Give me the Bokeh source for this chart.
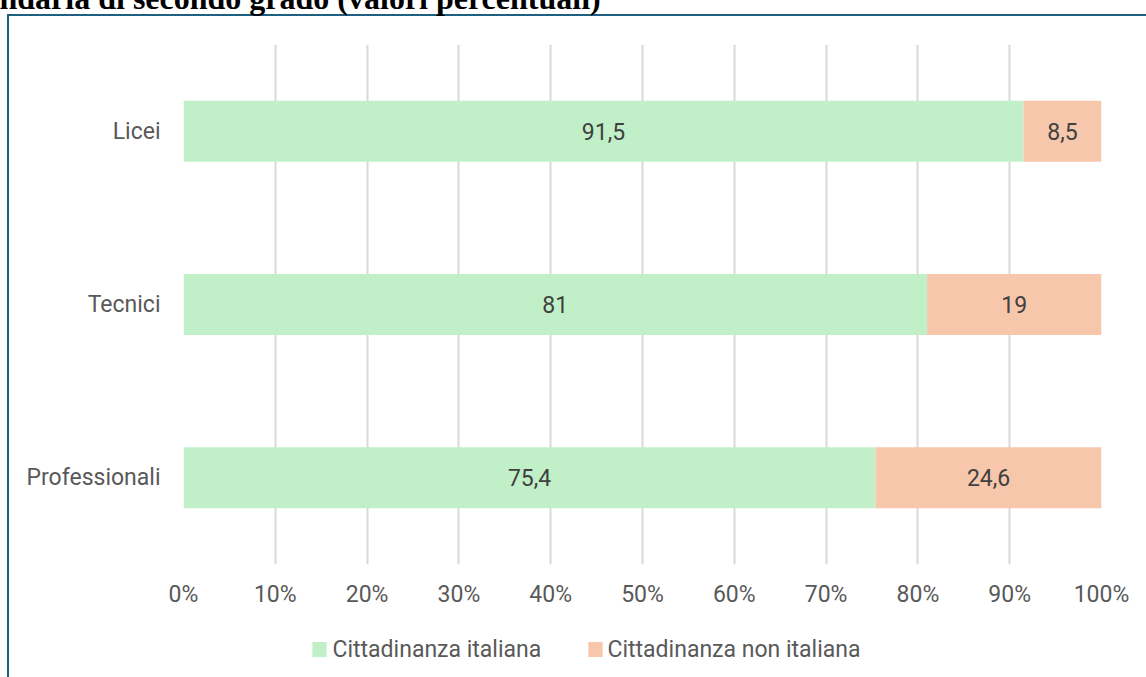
from bokeh.plotting import figure
from bokeh.models import (ColumnDataSource, FactorRange, Range1d, FixedTicker,
                          PrintfTickFormatter, LabelSet, Label)
from bokeh.core.properties import value
from bokeh.embed import file_html
from bokeh.resources import INLINE

# ---- data ----
categories = ["Licei", "Tecnici", "Professionali"]
italiana = [91.5, 81.0, 75.4]
non_italiana = [8.5, 19.0, 24.6]
italiana_labels = ["91,5", "81", "75,4"]
non_italiana_labels = ["8,5", "19", "24,6"]
series_names = ["Cittadinanza italiana", "Cittadinanza non italiana"]
x_ticks = [0, 10, 20, 30, 40, 50, 60, 70, 80, 90, 100]
title_text = "ndaria di secondo grado (valori percentuali)"

GREEN = "#c1f0c8"
ORANGE = "#f7c7ac"
AXIS_TXT = "#595959"
LBL_TXT = "#404040"
FRAME = "#1f5f80"
FONT = "Roboto"
FS = "23px"

src = ColumnDataSource(dict(
    cat=categories,
    ita=italiana,
    non=non_italiana,
    ita_mid=[v / 2 for v in italiana],
    non_mid=[a + b / 2 for a, b in zip(italiana, non_italiana)],
    ita_lbl=italiana_labels,
    non_lbl=non_italiana_labels,
))

p = figure(width=1146, height=677, output_backend="svg", toolbar_location=None,
           y_range=FactorRange(factors=categories[::-1], range_padding=0),
           x_range=Range1d(0, 100))
p.min_border_left = 183
p.min_border_right = 45
p.min_border_top = 44
p.min_border_bottom = 113
p.outline_line_color = None
p.background_fill_color = "white"
p.border_fill_alpha = 0
p.styles = {
    "background-color": "white",
    "background-image": f"linear-gradient({FRAME},{FRAME}), linear-gradient({FRAME},{FRAME})",
    "background-size": "2px 100%, 100% 2px",
    "background-position": "7px 14px, 7px 14px",
    "background-repeat": "no-repeat",
}

p.hbar_stack(["ita", "non"], y="cat", height=0.352, color=[GREEN, ORANGE],
             line_color=None, source=src)

# axes
p.xaxis.ticker = FixedTicker(ticks=x_ticks)
p.xaxis.formatter = PrintfTickFormatter(format="%d%%")
for ax in (p.xaxis[0], p.yaxis[0]):
    ax.axis_line_color = None
    ax.major_tick_line_color = None
    ax.minor_tick_line_color = None
    ax.major_label_text_color = AXIS_TXT
    ax.major_label_text_font = FONT
    ax.major_label_text_font_size = FS
p.xaxis.major_label_standoff = 10
p.yaxis.major_label_standoff = 17

p.xgrid.grid_line_color = "#d9d9d9"
p.xgrid.grid_line_width = 2
p.ygrid.grid_line_color = None

# data labels
for xcol, tcol in (("ita_mid", "ita_lbl"), ("non_mid", "non_lbl")):
    p.add_layout(LabelSet(x=xcol, y="cat", text=tcol, source=src, text_align="center",
                          text_baseline="middle", text_color=LBL_TXT,
                          text_font=value(FONT), text_font_size=FS))

# legend (drawn as labels in side panels, positioned in canvas pixels)
legend_pos = [(319, 332), (595, 607)]
for (sq_x, tx_x), name, col in zip(legend_pos, series_names, [GREEN, ORANGE]):
    p.add_layout(Label(x=sq_x, y=649, x_units="canvas", y_units="canvas", text=" ",
                       text_font_size="1px", text_align="center", text_baseline="middle",
                       padding=7, background_fill_color=col, background_fill_alpha=1), "right")
    p.add_layout(Label(x=tx_x, y=649, x_units="canvas", y_units="canvas", text=name,
                       text_font=FONT, text_font_size=FS, text_color=AXIS_TXT,
                       text_align="left", text_baseline="middle"), "below")

# cut title
p.add_layout(Label(x=-1, y=-3, x_units="canvas", y_units="canvas", text=title_text,
                   text_font="Liberation Serif", text_font_style="bold", text_font_size="32px",
                   text_baseline="alphabetic", text_align="left", text_color="black"), "above")

open("out.html", "w").write(file_html(p, INLINE))
